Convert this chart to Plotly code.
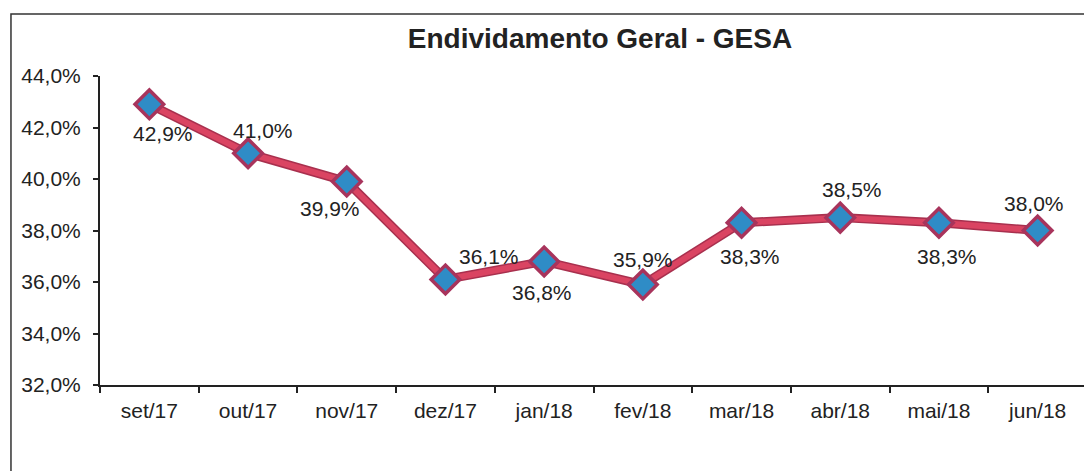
import plotly.graph_objects as go

categories = ["set/17", "out/17", "nov/17", "dez/17", "jan/18", "fev/18", "mar/18", "abr/18", "mai/18", "jun/18"]
values = [42.9, 41.0, 39.9, 36.1, 36.8, 35.9, 38.3, 38.5, 38.3, 38.0]
value_labels = ["42,9%", "41,0%", "39,9%", "36,1%", "36,8%", "35,9%", "38,3%", "38,5%", "38,3%", "38,0%"]
y_ticks = [32, 34, 36, 38, 40, 42, 44]
y_tick_labels = ["32,0%", "34,0%", "36,0%", "38,0%", "40,0%", "42,0%", "44,0%"]

# label offsets in pixels (style)
label_dx = [14, 15, -17, 44, -2, 0, 8, 12, 8, -4]
label_dy = [-29, 23, -27, 23, -31, 25, -34, 28, -34, 27]

FONT = "Liberation Sans, Arial, sans-serif"

fig = go.Figure()
fig.add_trace(go.Scatter(x=categories, y=values, mode="lines",
                         line=dict(color="#A8304E", width=9), hoverinfo="skip", showlegend=False))
fig.add_trace(go.Scatter(x=categories, y=values, mode="lines+markers",
                         line=dict(color="#DA4462", width=6),
                         marker=dict(symbol="diamond", size=22, color="#2F8CC6",
                                     line=dict(color="#A8345C", width=3.5)),
                         showlegend=False))

for c, v, t, dx, dy in zip(categories, values, value_labels, label_dx, label_dy):
    fig.add_annotation(x=c, y=v, text=t, showarrow=False, xshift=dx, yshift=dy,
                       font=dict(family=FONT, size=21, color="#222222"))

fig.add_shape(type="rect", xref="paper", yref="paper",
              x0=-0.0902, x1=1.05, y0=-0.35, y1=1.2006,
              line=dict(color="#333333", width=1.5), fillcolor="rgba(0,0,0,0)", layer="below")

fig.update_layout(
    width=1092, height=471,
    margin=dict(l=92, r=13, t=68, b=94),
    paper_bgcolor="white", plot_bgcolor="white",
    title=dict(text="<b>Endividamento Geral - GESA</b>", x=592/1092, xanchor="center",
               y=1 - 30/471, yanchor="middle", yref="container", xref="container",
               font=dict(family=FONT, size=28, color="#222222")),
    font=dict(family=FONT, size=21, color="#222222"),
)
fig.update_xaxes(type="category", range=[-0.5, 9.5], showline=True, linecolor="#222222", linewidth=2,
                 ticks="outside", ticklen=6, tickwidth=2, tickcolor="#222222", tickson="boundaries",
                 showgrid=False, zeroline=False, ticklabelstandoff=6,
                 tickfont=dict(family=FONT, size=21, color="#222222"))
fig.update_yaxes(range=[32, 44], tickvals=y_ticks, ticktext=y_tick_labels,
                 showline=True, linecolor="#222222", linewidth=2,
                 ticks="outside", ticklen=5, tickwidth=2, tickcolor="#222222",
                 showgrid=False, zeroline=False, ticklabelstandoff=8,
                 tickfont=dict(family=FONT, size=21, color="#222222"))

fig.write_html("out.html")
